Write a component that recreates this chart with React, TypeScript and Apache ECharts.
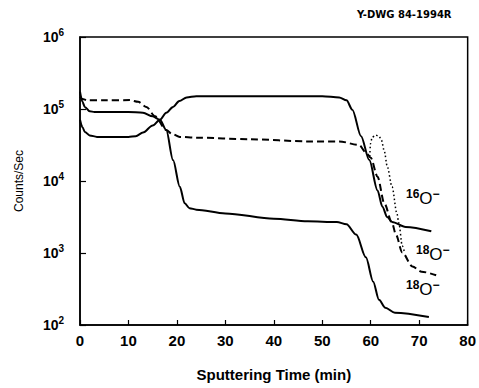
import React, { useEffect, useRef } from "react";
import * as echarts from "echarts";

// Sputtering time (min) and counts/sec pairs
const o18Lower: [number, number][] = [
  [0, 174000], [0.5, 126000], [1, 107000], [2, 93000], [3, 91000], [10, 91000], [13, 89000],
  [15, 79000], [16.5, 71000], [17.8, 51000], [19.2, 19500], [20.6, 8300], [21.6, 4900],
  [22.6, 4200], [24, 4000], [30, 3550], [40, 3000], [47, 2750], [53, 2700], [55, 2500],
  [57, 1800], [59, 870], [60.5, 400], [61.7, 224], [63, 174], [65, 148], [72, 129],
];
const o16: [number, number][] = [
  [0, 71000], [0.5, 56000], [1, 48000], [2, 43000], [3.5, 41000], [10, 41000], [11.5, 42000],
  [13, 47000], [15, 59000], [16.5, 71000], [17.8, 89000], [19.2, 107000], [20.5, 129000],
  [22, 145000], [24, 150000], [50, 150000], [53.5, 145000], [55, 132000], [56.2, 98000],
  [58, 42000], [59.7, 19500], [61.4, 7400], [62.4, 4400], [63.4, 3160], [64.4, 2700],
  [67.2, 2300], [72.5, 2000],
];
const o18Dashed: [number, number][] = [
  [0, 148000], [0.5, 138000], [1.5, 132000], [5, 132000], [10.3, 133000], [12, 126000],
  [13.7, 107000], [15.5, 79000], [17.8, 51000], [19, 45000], [20.6, 41000], [24, 40000],
  [35, 38000], [47, 35500], [53.5, 35500], [57.6, 31600], [59, 25000], [60, 21000],
  [61.4, 11500], [62.8, 4900], [64.4, 2600], [65.2, 1800], [66.5, 1020], [68.6, 650],
  [70.5, 550], [73.5, 490],
];
const o18Dotted: [number, number][] = [
  [59.8, 22000], [59.95, 33000], [60.3, 40500], [61, 43500], [61.7, 42000], [62.2, 37000],
  [62.8, 26000], [63.4, 16000], [64.4, 8300], [65.4, 3550], [65.8, 2600], [66.5, 1260], [67, 1000],
];
const xTicks = { min: 0, max: 80, interval: 10 };
const yRange = { min: 100, max: 1000000 };

export default function App() {
  const ref = useRef<HTMLDivElement>(null);
  useEffect(() => {
    if (!ref.current) return;
    const chart = echarts.init(ref.current, null, { renderer: "svg" });
    const font = "Liberation Sans, Arial, sans-serif";
    const lineBase = { type: "line", symbol: "none", smooth: 0.3, smoothMonotone: "x", z: 3 } as any;
    const labelRich = {
      s: { fontSize: 12, fontWeight: "bold", fontFamily: font, fill: "#000", padding: [0, 0, 9, 0] },
      o: { fontSize: 17, fontFamily: font, fill: "#000" },
    } as any;
    chart.setOption({
      animation: false,
      backgroundColor: "#fff",
      grid: { left: 80, right: 10, top: 37, bottom: 63, show: true, borderColor: "#000", borderWidth: 1.5 },
      xAxis: {
        type: "value",
        ...xTicks,
        axisLine: { show: true, lineStyle: { color: "#000", width: 1.5 } },
        axisTick: { show: true, inside: true, length: 5, lineStyle: { color: "#000", width: 1.2 } },
        axisLabel: { color: "#000", fontSize: 15, fontWeight: "bold", fontFamily: font, margin: 8 },
        splitLine: { show: false },
        name: "Sputtering Time (min)",
        nameLocation: "middle",
        nameGap: 42,
        nameTextStyle: { color: "#000", fontSize: 15, fontWeight: "bold", fontFamily: font },
      },
      yAxis: {
        type: "log",
        logBase: 10,
        ...yRange,
        axisLine: { show: true, lineStyle: { color: "#000", width: 1.5 } },
        axisTick: { show: true, inside: true, length: 6, lineStyle: { color: "#000", width: 1.2 } },
        axisLabel: {
          margin: 16,
          formatter: (v: number) => `{b|10}{e|${Math.round(Math.log10(v))}}`,
          rich: {
            b: { fontSize: 14, fontWeight: "bold", fontFamily: font, color: "#000" },
            e: { fontSize: 10, fontWeight: "bold", fontFamily: font, color: "#000", padding: [0, 0, 9, 0] },
          },
        },
        splitLine: { show: false },
        minorTick: { show: false },
        name: "Counts/Sec",
        nameLocation: "middle",
        nameGap: 55,
        nameTextStyle: { color: "#000", fontSize: 12, fontFamily: font },
      },
      series: [
        { ...lineBase, name: "18O- lower", data: o18Lower, lineStyle: { color: "#000", width: 2 } },
        { ...lineBase, name: "16O-", data: o16, lineStyle: { color: "#000", width: 2 } },
        { ...lineBase, name: "18O- dashed", data: o18Dashed, lineStyle: { color: "#000", width: 2, type: [7, 4] } },
        { ...lineBase, name: "18O- dotted", data: o18Dotted, lineStyle: { color: "#000", width: 1.5, type: [1.5, 2.5] } },
      ],
      graphic: [
        {
          type: "text", left: 357, top: 9,
          style: { text: "Y-DWG 84-1994R", fontSize: 10, fontWeight: "bold", fontFamily: "DejaVu Sans, sans-serif", fill: "#000" },
        },
        { type: "text", x: 406, y: 188, style: { text: "{s|16}{o|O}{s|−}", rich: labelRich } },
        { type: "text", x: 416, y: 244, style: { text: "{s|18}{o|O}{s|−}", rich: labelRich } },
        { type: "text", x: 406, y: 279, style: { text: "{s|18}{o|O}{s|−}", rich: labelRich } },
      ],
    });
    return () => chart.dispose();
  }, []);
  return <div ref={ref} style={{ position: "fixed", left: 0, top: 0, width: 479, height: 388, background: "#fff" }} />;
}
